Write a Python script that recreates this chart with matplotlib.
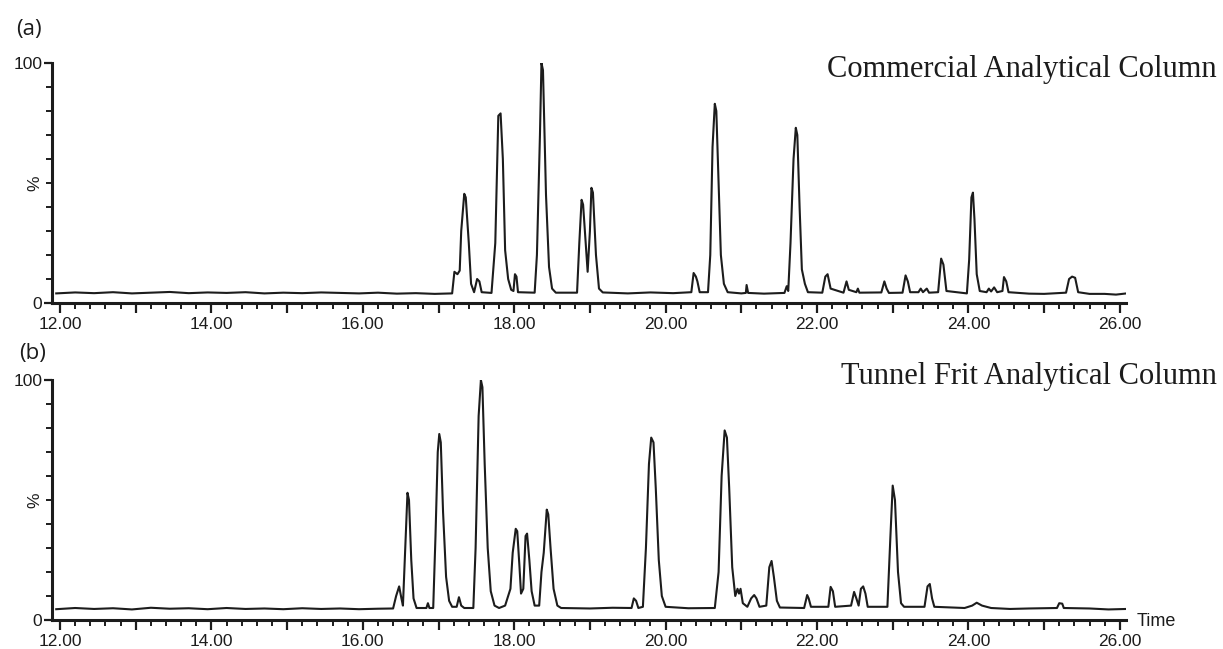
import matplotlib.pyplot as plt
from matplotlib.ticker import MultipleLocator, FuncFormatter

# chromatogram (a): retention time (min) and relative intensity (%)
a_time = [11.95, 12.2, 12.45, 12.7, 12.95, 13.2, 13.45, 13.7, 13.95, 14.2, 14.45, 14.7,
          14.95, 15.2, 15.45, 15.7, 15.95, 16.2, 16.45, 16.7, 16.95, 17.18,
          17.21, 17.25, 17.28, 17.30, 17.34, 17.36, 17.40, 17.43, 17.47, 17.51, 17.54, 17.57,
          17.70, 17.75, 17.79, 17.82, 17.85, 17.88, 17.92, 17.96, 17.99, 18.01, 18.03, 18.05,
          18.27, 18.30, 18.34, 18.36, 18.38, 18.42, 18.46, 18.50, 18.55,
          18.83, 18.86, 18.89, 18.91, 18.95, 18.97, 19.00, 19.02, 19.04, 19.08, 19.12, 19.17,
          19.5, 19.8, 20.1, 20.34, 20.37, 20.40, 20.42, 20.45,
          20.56, 20.59, 20.62, 20.65, 20.67, 20.70, 20.73, 20.77, 20.82,
          21.0, 21.06, 21.07, 21.09, 21.3, 21.57, 21.60, 21.62, 21.65, 21.69, 21.72, 21.74,
          21.77, 21.80, 21.84, 21.88, 22.07, 22.11, 22.14, 22.18, 22.35, 22.39, 22.42,
          22.52, 22.54, 22.56, 22.85, 22.89, 22.92, 22.95, 23.13, 23.17, 23.20, 23.23,
          23.34, 23.37, 23.40, 23.45, 23.48, 23.60, 23.64, 23.67, 23.71,
          23.98, 24.01, 24.04, 24.06, 24.08, 24.11, 24.15, 24.24, 24.27, 24.30, 24.34, 24.38,
          24.45, 24.47, 24.50, 24.53, 24.8, 25.0, 25.29, 25.33, 25.37, 25.41, 25.45,
          25.6, 25.8, 25.95, 26.09]
a_pct = [4.0, 4.4, 4.1, 4.5, 4.0, 4.3, 4.6, 4.1, 4.4, 4.2, 4.5, 4.0,
         4.3, 4.1, 4.4, 4.2, 4.0, 4.3, 3.9, 4.1, 3.8, 4.0,
         13.0, 12.0, 13.5, 30.0, 45.5, 44.0, 25.0, 8.0, 4.5, 10.0, 9.0, 4.5,
         4.2, 25.0, 78.0, 79.0, 60.0, 22.0, 10.0, 5.5, 5.0, 12.0, 11.0, 4.5,
         4.3, 20.0, 70.0, 100.0, 97.0, 45.0, 15.0, 6.0, 4.3,
         4.3, 25.0, 43.0, 41.0, 22.0, 13.0, 30.0, 48.0, 46.0, 20.0, 6.0, 4.4,
         4.0, 4.4, 4.1, 4.5, 12.5, 11.0, 9.0, 4.5,
         4.5, 20.0, 65.0, 83.0, 80.0, 50.0, 20.0, 8.0, 4.5,
         4.0, 4.2, 7.5, 4.2, 3.9, 4.2, 7.0, 5.0, 25.0, 60.0, 73.0, 70.0,
         40.0, 14.0, 8.0, 4.5, 4.3, 11.0, 12.0, 6.0, 4.3, 9.0, 5.5,
         4.5, 6.0, 4.3, 4.4, 9.0, 6.0, 4.2, 4.3, 11.5, 9.0, 4.5,
         4.5, 6.0, 4.5, 6.0, 4.3, 4.5, 18.5, 16.0, 5.0,
         4.0, 18.0, 44.0, 46.0, 35.0, 12.0, 5.0, 4.5, 6.0, 4.8, 6.5, 4.5,
         5.0, 10.8, 9.0, 4.5, 3.9, 3.8, 4.3, 10.0, 11.0, 10.5, 4.5,
         3.8, 3.8, 3.5, 4.0]

# chromatogram (b)
b_time = [11.95, 12.2, 12.45, 12.7, 12.95, 13.2, 13.45, 13.7, 13.95, 14.2, 14.45, 14.7,
          14.95, 15.2, 15.45, 15.7, 15.95, 16.2, 16.40, 16.44, 16.48, 16.51, 16.53,
          16.56, 16.59, 16.61, 16.64, 16.67, 16.71, 16.84, 16.86, 16.88,
          16.93, 16.96, 16.99, 17.01, 17.03, 17.06, 17.10, 17.14, 17.18, 17.24, 17.27, 17.30, 17.34,
          17.46, 17.49, 17.53, 17.56, 17.58, 17.61, 17.65, 17.69, 17.74, 17.80,
          17.88, 17.92, 17.95, 17.98, 18.02, 18.04, 18.07, 18.09, 18.12, 18.15, 18.17, 18.20,
          18.23, 18.27, 18.33, 18.36, 18.39, 18.43, 18.45, 18.48, 18.52, 18.57, 18.62,
          19.0, 19.3, 19.55, 19.58, 19.61, 19.64, 19.70, 19.74, 19.78, 19.81, 19.84, 19.87,
          19.91, 19.95, 20.0, 20.3, 20.65, 20.70, 20.74, 20.78, 20.81, 20.84, 20.88, 20.92,
          20.95, 20.97, 20.99, 21.02, 21.08, 21.13, 21.17, 21.20, 21.24, 21.33, 21.37, 21.40,
          21.43, 21.47, 21.51, 21.83, 21.87, 21.89, 21.92, 22.15, 22.18, 22.21, 22.24,
          22.45, 22.49, 22.52, 22.55, 22.58, 22.61, 22.64, 22.67, 22.93, 22.97, 23.00, 23.03,
          23.07, 23.11, 23.15, 23.42, 23.46, 23.49, 23.52, 23.55, 23.95, 24.05, 24.11, 24.18,
          24.30, 24.55, 24.8, 25.17, 25.20, 25.24, 25.26, 25.6, 25.85, 26.09]
b_pct = [4.5, 5.0, 4.6, 4.9, 4.4, 5.1, 4.7, 4.9, 4.5, 5.0, 4.6, 4.8,
         4.5, 4.9, 4.6, 4.8, 4.5, 4.7, 4.8, 10.0, 14.0, 9.0, 6.0,
         30.0, 53.0, 50.0, 25.0, 9.0, 5.0, 5.0, 7.0, 5.0,
         5.0, 35.0, 70.0, 77.5, 74.0, 45.0, 18.0, 8.0, 5.5, 5.5, 9.5, 6.0, 5.0,
         5.0, 30.0, 85.0, 100.0, 97.0, 65.0, 30.0, 12.0, 6.0, 5.0,
         6.0, 10.0, 13.0, 28.0, 38.0, 37.0, 22.0, 11.0, 13.0, 35.0, 36.0, 25.0,
         12.0, 6.0, 6.0, 20.0, 28.0, 46.0, 44.0, 30.0, 13.0, 6.0, 5.0,
         4.8, 5.1, 5.0, 9.0, 8.0, 5.0, 5.5, 30.0, 65.0, 76.0, 74.0, 55.0,
         25.0, 10.0, 5.5, 4.9, 5.0, 20.0, 60.0, 79.0, 76.0, 55.0, 22.0, 10.0,
         13.0, 11.0, 13.0, 7.0, 5.5, 9.0, 10.4, 9.0, 5.5, 6.0, 22.0, 24.6,
         18.0, 8.0, 5.2, 5.0, 10.4, 9.0, 5.5, 5.5, 13.8, 12.0, 5.5,
         6.0, 11.7, 9.0, 6.0, 13.0, 14.0, 11.0, 5.5, 5.5, 35.0, 56.0, 50.0,
         20.0, 7.0, 5.5, 5.5, 14.0, 15.0, 9.0, 5.5, 5.0, 6.0, 7.2, 6.0,
         5.0, 4.6, 4.8, 5.0, 7.0, 6.8, 5.0, 4.8, 4.4, 4.6]

panel_tags = ['(a)', '(b)']
panel_titles = ['Commercial Analytical Column', 'Tunnel Frit Analytical Column']

plt.rcParams['font.family'] = ['Liberation Sans', 'DejaVu Sans']

W, H = 1223, 649
fig = plt.figure(figsize=(W / 100, H / 100), dpi=100)

ink = '#1c1c1c'
x0, x1 = 11.894, 26.082


def even_label(v, pos):
    n = int(round(v))
    return '%.2f' % v if n % 2 == 0 else ''


def draw_panel(rect, t, y, tag, title, tag_xy, title_xy, show_time):
    ax = fig.add_axes(rect)
    ax.plot(t, y, color=ink, lw=1.5)
    ax.set_xlim(x0, x1)
    ax.set_ylim(0, 100)
    for s in ['top', 'right']:
        ax.spines[s].set_visible(False)
    for s in ['left', 'bottom']:
        ax.spines[s].set_linewidth(2.2)
        ax.spines[s].set_color(ink)
    ax.xaxis.set_major_locator(MultipleLocator(1))
    ax.xaxis.set_minor_locator(MultipleLocator(0.2))
    ax.xaxis.set_major_formatter(FuncFormatter(even_label))
    ax.set_yticks([0, 100])
    ax.set_yticks([0, 10, 20, 30, 40, 50, 60, 70, 80, 90, 100], minor=True)
    ax.tick_params(axis='x', which='major', length=7, width=1.6, color=ink,
                   labelsize=12.5, pad=3, labelcolor=ink)
    ax.tick_params(axis='x', which='minor', length=4, width=1.4, color=ink)
    ax.tick_params(axis='y', which='major', length=6, width=1.6, color=ink,
                   labelsize=12.5, pad=1, labelcolor=ink)
    ax.tick_params(axis='y', which='minor', length=4, width=1.4, color=ink)
    ax.set_ylabel('%', fontsize=12.5, color=ink)
    ax.yaxis.set_label_coords(-0.0085, 0.5)
    fig.text(tag_xy[0] / W, 1 - tag_xy[1] / H, tag, fontsize=16, family='Open Sans',
             ha='center', va='center', color=ink)
    fig.text(title_xy[0] / W, 1 - title_xy[1] / H, title, fontsize=22,
             family='Liberation Serif', ha='right', va='baseline', color=ink)
    if show_time:
        fig.text(1137 / W, 1 - 621 / H, 'Time', fontsize=13, ha='left', va='center',
                 color=ink)
    return ax


left = 52 / W
width = (1126 - 52) / W
height = (303 - 63) / H
draw_panel([left, (H - 303) / H, width, height], a_time, a_pct,
           panel_tags[0], panel_titles[0], (29, 30), (1217, 77), False)
draw_panel([left, (H - 620) / H, width, height], b_time, b_pct,
           panel_tags[1], panel_titles[1], (33, 353), (1217, 384), True)

fig.savefig('out.png', dpi=100)
